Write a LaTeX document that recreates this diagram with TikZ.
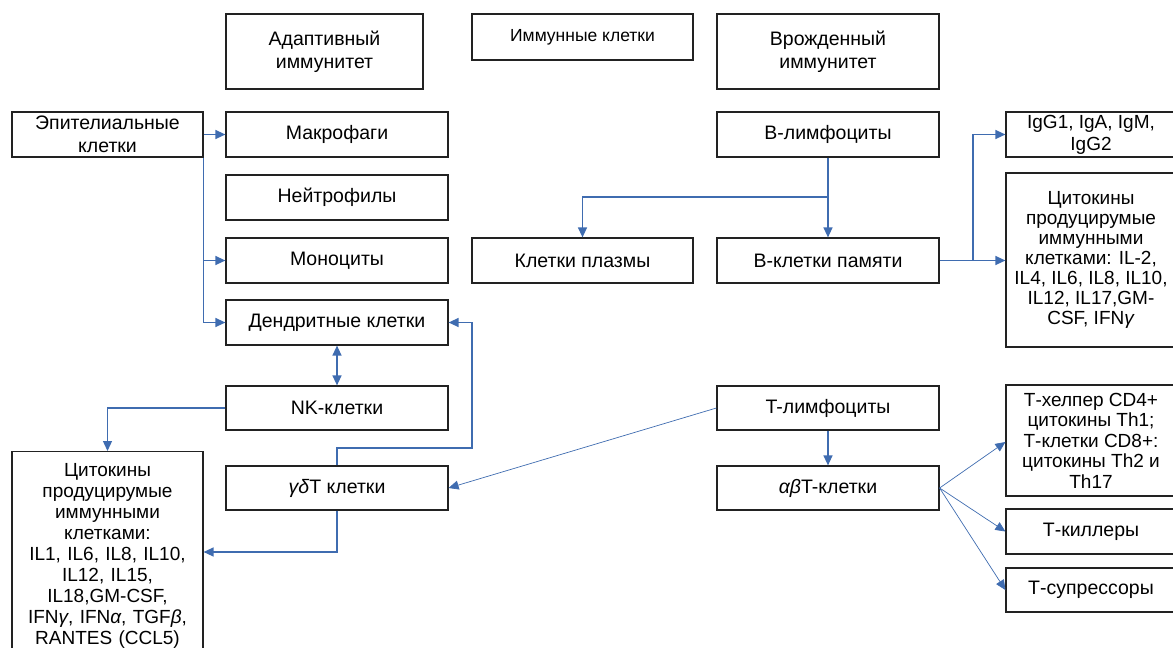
\documentclass[tikz,border=0pt]{standalone}
\usepackage{fontspec}
\setmainfont{Liberation Sans}
\usetikzlibrary{arrows.meta}
\definecolor{conncol}{HTML}{3F6CB0}
\definecolor{boxcol}{HTML}{222222}
\begin{document}
\begin{tikzpicture}[x=1pt,y=-1pt,
  box/.style={draw=boxcol, line width=1.2pt, align=center, inner sep=2pt,
    font=\fontsize{19.5}{23}\selectfont, minimum width=222pt, minimum height=45pt},
  conn/.style={draw=conncol, line width=1.3pt, -{Triangle[length=10pt,width=9pt]}},
  thinconn/.style={conn, line width=0.7pt},
  both/.style={draw=conncol, line width=1.3pt, {Triangle[length=10pt,width=9pt]}-{Triangle[length=10pt,width=9pt]}}]
\useasboundingbox (0,0) rectangle (1173,648);
% top row
\node[box, minimum width=197pt, minimum height=75pt] (adapt) at (324.5,51.5) {Адаптивный\\иммунитет};
\node[box, minimum width=221pt, minimum height=46pt, font=\fontsize{17.5}{20}\selectfont] (immune) at (582.5,37) {Иммунные клетки};
\node[box, minimum height=75pt] (innate) at (828,51.5) {Врожденный\\иммунитет};
% left column
\node[box, minimum width=191pt, font=\fontsize{19.5}{23.5}\selectfont] (epi) at (107.5,134.5) {Эпителиальные\\клетки};
\node[box] (makro) at (337,134.5) {Макрофаги};
\node[box] (neutro) at (337,197.5) {Нейтрофилы};
\node[box] (mono) at (337,260.5) {Моноциты};
\node[box] (dendr) at (337,322.5) {Дендритные клетки};
\node[box, minimum height=44pt] (nk) at (337,408) {NK-клетки};
\node[box, minimum height=44pt] (gd) at (337,488) {\textit{γδ}T клетки};
\node[box, anchor=north, minimum width=191pt, text width=185pt, inner sep=3pt,
  font=\fontsize{19}{21}\selectfont] (cytoL) at (107.5,451)
  {\rule{0pt}{22pt}Цитокины\\продуцирумые\\иммунными\\клетками:\\IL1, IL6, IL8, IL10,\\IL12, IL15,\\IL18,GM-CSF,\\IFN\textit{γ}, IFN\textit{α}, TGF\textit{β},\\RANTES (CCL5)\\\rule{0pt}{24pt}};
% middle / right
\node[box] (blym) at (828,134.5) {B-лимфоциты};
\node[box, minimum width=221pt] (plasma) at (582.5,260.5) {Клетки плазмы};
\node[box] (bmem) at (828,260.5) {B-клетки памяти};
\node[box, minimum width=170pt, font=\fontsize{19}{22}\selectfont] (igg) at (1091,134.5) {IgG1, IgA, IgM,\\IgG2};
\node[box, minimum width=170pt, minimum height=174pt, font=\fontsize{19}{20}\selectfont] (cytoR) at (1091,260)
  {Цитокины\\продуцирумые\\иммунными\\клетками: IL-2,\\IL4, IL6, IL8, IL10,\\IL12, IL17,GM-\\CSF, IFN\textit{γ}};
\node[box, minimum height=44pt] (tlym) at (828,408) {T-лимфоциты};
\node[box, minimum height=44pt] (ab) at (828,488) {\textit{αβ}T-клетки};
\node[box, minimum width=170pt, minimum height=111pt, font=\fontsize{19}{20.5}\selectfont] (thelp) at (1091,440.5)
  {Т-хелпер CD4+\\цитокины Th1;\\Т-клетки CD8+:\\цитокины Th2 и\\Th17};
\node[box, minimum width=170pt] (tkill) at (1091,531.5) {Т-киллеры};
\node[box, minimum width=170pt, minimum height=44pt] (tsup) at (1091,590) {Т-супрессоры};
% coordinates
\coordinate (bsplit) at (828,197);
\coordinate (rsplit) at (973,260.5);
\coordinate (gdturn) at (472,448);
% connectors
\draw[conn] (epi.east) -- (makro.west);
\draw[conn] (epi.south east) |- (mono.west);
\draw[conn] (epi.south east) |- (dendr.west);
\draw[both] (dendr.south) -- (nk.north);
\draw[conn] (nk.west) -| (cytoL.north);
\draw[conn] (gd.south) |- (cytoL.north east |- 0,552);
\draw[conn] (gd.north) |- (gdturn) |- (dendr.east);
\draw[conn] (blym.south) -- (bmem.north);
\draw[conn] (bsplit) -| (plasma.north);
\draw[conn] (bmem.east) -- (cytoR.west |- bmem.east);
\draw[conn] (rsplit) |- (igg.west);
\draw[thinconn] (tlym.west) -- (gd.east);
\draw[conn] (tlym.south) -- (ab.north);
\draw[thinconn] (ab.east) -- ([yshift=-1.5pt]thelp.west);
\draw[thinconn] (ab.east) -- (tkill.west);
\draw[thinconn] (ab.east) -- (tsup.west);
\end{tikzpicture}
\end{document}
